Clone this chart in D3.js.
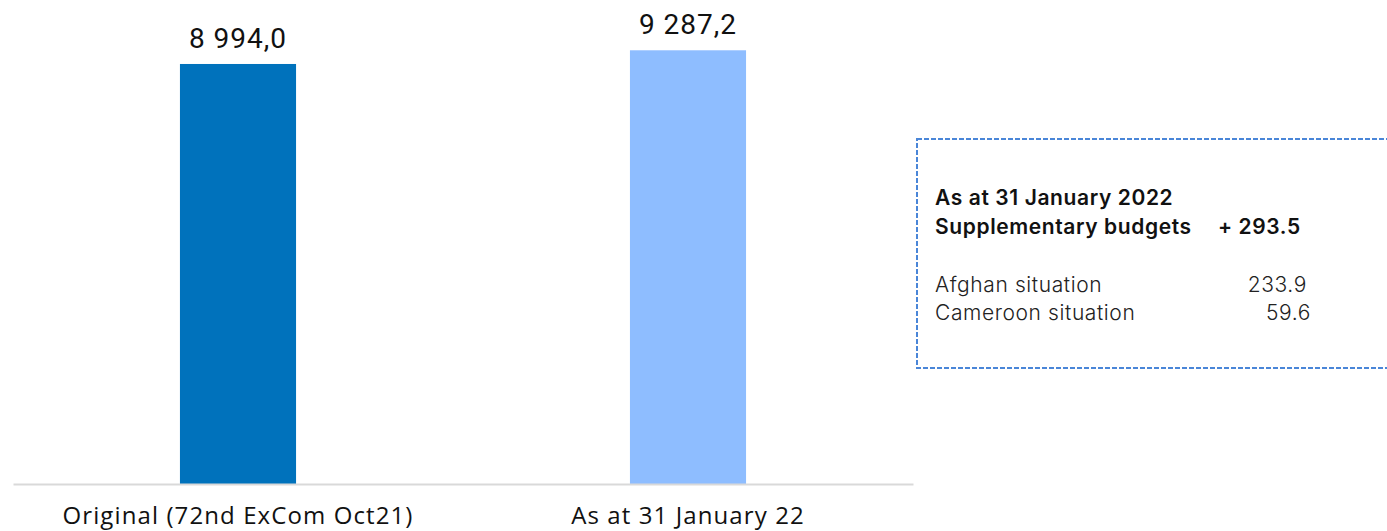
<!DOCTYPE html>
<html>
<head>
<meta charset="utf-8">
<script src="https://cdn.jsdelivr.net/npm/d3@7"></script>
<style>
  html, body { margin: 0; padding: 0; background: #fff; }
  svg { display: block; }
</style>
</head>
<body>
<svg id="chart" width="1387" height="531"></svg>
<script>
// ---- data ----
const categories = ["Original (72nd ExCom Oct21)", "As at 31 January 22"];
const values = [8994.0, 9287.2];
const valueLabels = ["8 994,0", "9 287,2"];
const barColors = ["#0072bc", "#8ebdff"];

const boxTitle = ["As at 31 January 2022", "Supplementary budgets"];
const boxTotal = "+ 293.5";
const boxItems = ["Afghan situation", "Cameroon situation"];
const boxItemValues = ["233.9", "59.6"];

// ---- layout ----
const svg = d3.select("#chart");
const baseY = 484;
const x = d3.scaleBand().domain(categories).range([13, 913]).padding(0);
const y = d3.scaleLinear().domain([0, 10364]).range([baseY, 0]);
const barW = x.bandwidth() * 0.258;

// bars
svg.selectAll("rect.bar").data(values).join("rect")
  .attr("class", "bar")
  .attr("x", (d, i) => x(categories[i]) + x.bandwidth() / 2 - barW / 2)
  .attr("y", d => y(d))
  .attr("width", barW)
  .attr("height", d => y(0) - y(d))
  .attr("fill", (d, i) => barColors[i]);

// value labels
svg.selectAll("text.val").data(values).join("text")
  .attr("class", "val")
  .attr("x", (d, i) => x(categories[i]) + x.bandwidth() / 2)
  .attr("y", d => y(d) - 16)
  .attr("text-anchor", "middle")
  .attr("font-family", "'Roboto', sans-serif")
  .attr("font-size", 28)
  .attr("letter-spacing", 1)
  .attr("fill", "#111")
  .text((d, i) => valueLabels[i]);

// x axis
const axis = svg.append("g").attr("transform", `translate(0,${baseY})`)
  .call(d3.axisBottom(x).tickSize(0).tickPadding(23));
axis.select(".domain").attr("stroke", "#d9d9d9").attr("stroke-width", 2);
axis.selectAll(".tick text")
  .attr("dy", "0.72em")
  .attr("font-family", "'Open Sans', sans-serif")
  .attr("font-size", 24)
  .attr("letter-spacing", 1.1)
  .attr("fill", "#111");

// annotation box
const box = svg.append("g");
box.append("rect")
  .attr("x", 917).attr("y", 139)
  .attr("width", 500).attr("height", 229)
  .attr("fill", "none")
  .attr("stroke", "#4a86d8")
  .attr("stroke-width", 2)
  .attr("stroke-dasharray", "5,2");

const boxFont = "'Inter', 'Open Sans', sans-serif";
box.selectAll("text.title").data(boxTitle).join("text")
  .attr("class", "title")
  .attr("x", 935)
  .attr("y", (d, i) => 205 + i * 29)
  .attr("font-family", boxFont)
  .attr("font-weight", 600)
  .attr("font-size", 21)
  .attr("letter-spacing", 0.6)
  .attr("fill", "#111")
  .text(d => d);
box.append("text")
  .attr("x", 1218).attr("y", 234)
  .attr("font-family", boxFont)
  .attr("font-weight", 600)
  .attr("font-size", 21)
  .attr("letter-spacing", 0.6)
  .attr("fill", "#111")
  .text(boxTotal);

box.selectAll("text.item").data(boxItems).join("text")
  .attr("class", "item")
  .attr("x", 935)
  .attr("y", (d, i) => 292 + i * 28)
  .attr("font-family", boxFont)
  .attr("font-weight", 300)
  .attr("font-size", 21)
  .attr("letter-spacing", 0.6)
  .attr("fill", "#222")
  .text(d => d);
box.selectAll("text.itemv").data(boxItemValues).join("text")
  .attr("class", "itemv")
  .attr("x", (d, i) => i === 0 ? 1307 : 1311)
  .attr("y", (d, i) => 292 + i * 28)
  .attr("text-anchor", "end")
  .attr("font-family", boxFont)
  .attr("font-weight", 300)
  .attr("font-size", 21)
  .attr("letter-spacing", 0.6)
  .attr("fill", "#222")
  .text(d => d);
</script>
</body>
</html>
